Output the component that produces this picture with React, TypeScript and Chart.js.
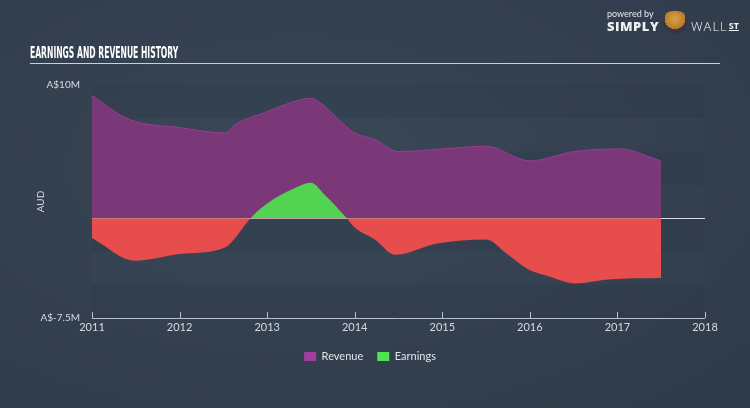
import React, { useEffect, useRef } from "react";
import { Chart, registerables } from "chart.js";

Chart.register(...registerables);

const revenueYears = [2011.0, 2011.43, 2012.0, 2012.52, 2012.63, 2013.0, 2013.15, 2013.5, 2013.6, 2013.9, 2014.0, 2014.23, 2014.5, 2015.0, 2015.5, 2016.0, 2016.5, 2017.03, 2017.5];
const revenueValues = [9.2, 7.4, 6.8, 6.4, 7.0, 8.0, 8.4, 9.0, 8.7, 6.9, 6.4, 5.9, 5.0, 5.2, 5.4, 4.3, 5.0, 5.2, 4.3];

const earningsYears = [2011.0, 2011.49, 2012.0, 2012.52, 2012.62, 2012.81, 2013.0, 2013.3, 2013.5, 2013.65, 2013.91, 2014.0, 2014.23, 2014.46, 2014.94, 2015.5, 2015.74, 2015.97, 2016.23, 2016.52, 2016.89, 2017.5];
const earningsValues = [-1.5, -3.2, -2.7, -2.2, -1.6, 0, 1.1, 2.2, 2.65, 1.8, 0, -0.7, -1.6, -2.75, -1.9, -1.6, -2.7, -3.8, -4.4, -4.9, -4.6, -4.5];

const xTicks = [2011, 2012, 2013, 2014, 2015, 2016, 2017, 2018];
const yTickValues = [-7.5, 0, 10];
const yTickLabels: Record<string, string> = { "-7.5": "A$-7.5M", "0": "", "10": "A$10M" };

const bgPlugin = {
  id: "bands",
  beforeDraw(chart: any) {
    const { ctx, chartArea } = chart;
    const { left, right, top, bottom } = chartArea;
    const n = 7;
    const h = (bottom - top) / n;
    ctx.save();
    for (let i = 0; i < n; i++) {
      ctx.fillStyle = i % 2 === 0 ? "rgba(0,0,0,0.025)" : "rgba(255,255,255,0.012)";
      ctx.fillRect(left, top + i * h, right - left, h);
    }
    ctx.restore();
  },
  afterDraw(chart: any) {
    const { ctx, chartArea, scales } = chart;
    const xs = scales.x;
    ctx.save();
    ctx.strokeStyle = "#b8c0ca";
    ctx.lineWidth = 1;
    ctx.beginPath();
    ctx.moveTo(chartArea.left, chartArea.bottom + 0.5);
    ctx.lineTo(chartArea.right, chartArea.bottom + 0.5);
    xTicks.forEach((t) => {
      const px = Math.round(xs.getPixelForValue(t)) + 0.5;
      ctx.moveTo(px, chartArea.bottom);
      ctx.lineTo(px, chartArea.bottom - 6);
    });
    ctx.stroke();
    ctx.restore();
  },
};

export default function App() {
  const ref = useRef<HTMLCanvasElement>(null);
  useEffect(() => {
    document.body.style.margin = "0";
    const chart = new Chart(ref.current!, {
      type: "line",
      data: {
        datasets: [
          {
            label: "Revenue",
            data: revenueYears.map((x, i) => ({ x, y: revenueValues[i] })),
            borderColor: "#963c93",
            borderWidth: 1,
            backgroundColor: "#a23ea0",
            fill: { target: "origin", above: "#7b3878", below: "#7b3878" },
            pointRadius: 0,
            cubicInterpolationMode: "monotone",
            order: 1,
          },
          {
            label: "Earnings",
            data: earningsYears.map((x, i) => ({ x, y: earningsValues[i] })),
            borderWidth: 0,
            borderColor: "rgba(0,0,0,0)",
            backgroundColor: "#4ee44e",
            fill: { target: "origin", above: "#52d452", below: "#e84d4e" },
            pointRadius: 0,
            cubicInterpolationMode: "monotone",
            order: 0,
          },
        ] as any,
      },
      options: {
        animation: false,
        responsive: false,
        layout: { padding: { left: 35, right: 45, top: 85, bottom: 36 } },
        plugins: {
          tooltip: { enabled: false },
          legend: {
            position: "bottom",
            labels: {
              color: "#dfe3e8",
              boxWidth: 12,
              boxHeight: 9,
              padding: 14,
              font: { family: "Lato, 'Open Sans', sans-serif", size: 11 },
              generateLabels: (chart: any) =>
                chart.data.datasets.map((d: any, i: number) => ({
                  text: d.label,
                  fillStyle: d.backgroundColor,
                  strokeStyle: d.backgroundColor,
                  lineWidth: 0,
                  fontColor: "#dfe3e8",
                  datasetIndex: i,
                })),
            },
          },
        },
        scales: {
          x: {
            type: "linear",
            min: 2011,
            max: 2018,
            afterBuildTicks: (s: any) => {
              s.ticks = xTicks.map((v) => ({ value: v }));
            },
            afterFit: (s: any) => {
              s.height = 19;
            },
            ticks: {
              color: "#d5dae0",
              font: { family: "Lato, 'Open Sans', sans-serif", size: 11 },
              padding: 3,
              callback: (v: any) => String(v),
            },
            grid: { display: false, drawTicks: false },
            border: { display: false },
          },
          y: {
            min: -7.5,
            max: 10,
            afterBuildTicks: (s: any) => {
              s.ticks = yTickValues.map((v) => ({ value: v }));
            },
            afterFit: (s: any) => {
              s.width = 57;
            },
            title: {
              display: true,
              text: "AUD",
              color: "#d5dae0",
              font: { family: "Lato, 'Open Sans', sans-serif", size: 10 },
              padding: { top: 0, bottom: 0 },
            },
            ticks: {
              color: "#d5dae0",
              font: { family: "Lato, 'Open Sans', sans-serif", size: 10 },
              padding: 12,
              callback: (v: any) => yTickLabels[String(v)] ?? "",
            },
            grid: {
              drawTicks: false,
              color: (c: any) => (c.tick && c.tick.value === 0 ? "#d8dde3" : "rgba(0,0,0,0)"),
              lineWidth: 1,
            },
            border: { display: false },
          },
        },
      },
      plugins: [bgPlugin],
    } as any);
    return () => chart.destroy();
  }, []);

  return (
    <div
      style={{
        position: "relative",
        width: 750,
        height: 408,
        background: "radial-gradient(ellipse at 40% 40%, #384555 0%, #323e4d 70%, #2f3a48 100%)",
        overflow: "hidden",
      }}
    >
      <canvas ref={ref} width={750} height={408} style={{ position: "absolute", left: 0, top: 0 }} />
      <div
        style={{
          position: "absolute",
          left: 30,
          top: 45,
          color: "#ffffff",
          fontFamily: "'DejaVu Sans Condensed', 'Liberation Sans Narrow', sans-serif",
          fontWeight: 700,
          fontSize: 16,
          lineHeight: "16px",
          whiteSpace: "nowrap",
          transform: "scaleX(0.53)",
          transformOrigin: "left top",
        }}
      >
        EARNINGS AND REVENUE HISTORY
      </div>
      <div style={{ position: "absolute", left: 30, top: 63, width: 690, height: 1, background: "#c9d0d8" }} />
      <div
        style={{
          position: "absolute",
          left: 607,
          top: 9,
          color: "#e6e9ec",
          fontFamily: "Lato, 'Open Sans', sans-serif",
          fontSize: 9,
          lineHeight: "10px",
        }}
      >
        powered by
      </div>
      <div
        style={{
          position: "absolute",
          left: 607,
          top: 19,
          color: "#eef0f2",
          fontFamily: "'Open Sans', Lato, sans-serif",
          fontSize: 13,
          lineHeight: "14px",
          whiteSpace: "nowrap",
          display: "flex",
          alignItems: "center",
        }}
      >
        <span style={{ fontWeight: 800, letterSpacing: 0.5 }}>SIMPLY</span>
        <span
          style={{
            display: "inline-block",
            width: 24,
            height: 22,
            margin: "0 4px",
            marginTop: -8,
            borderRadius: "40% 40% 50% 50%",
            background: "radial-gradient(circle at 50% 35%, #d9a441 0%, #b8792c 55%, #3a3a44 56%, #2a2c35 100%)",
          }}
        />
        <span style={{ fontWeight: 300, letterSpacing: 1 }}>WALL</span>
        <span style={{ fontWeight: 700, fontSize: 9, textDecoration: "underline", marginLeft: 1 }}>ST</span>
      </div>
    </div>
  );
}
